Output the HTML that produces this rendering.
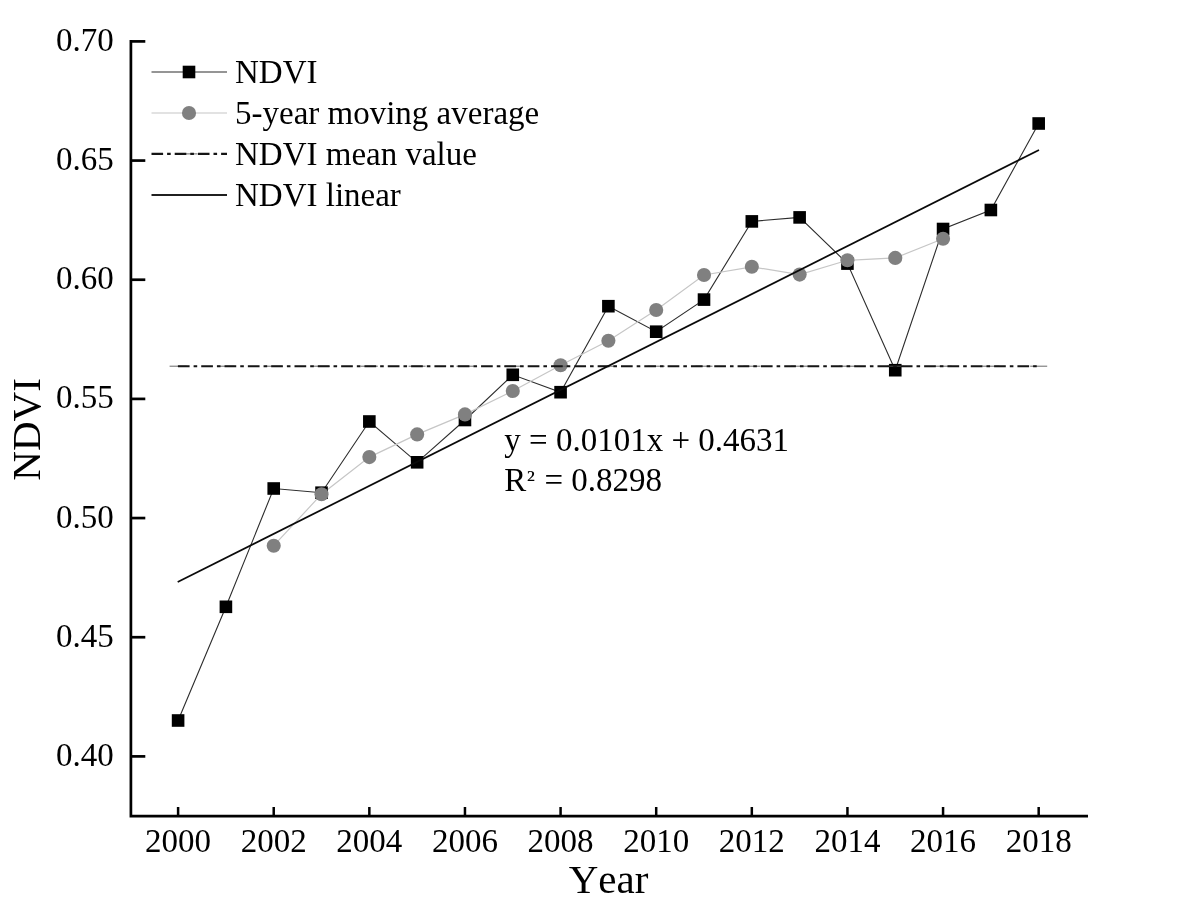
<!DOCTYPE html>
<html lang="en">
<head>
<meta charset="utf-8">
<title>NDVI trend 2000-2018</title>
<style>
html,body{margin:0;padding:0;background:#fff;}
body{width:1182px;height:917px;overflow:hidden;}
svg{display:block;will-change:transform;}
text{font-family:'Liberation Serif','Times New Roman',serif;fill:#000;font-kerning:none;font-variant-ligatures:none;}
.tick{font-size:33px;}
.leg{font-size:33px;}
.ttl{font-size:41px;}
</style>
</head>
<body>
<svg width="1182" height="917" viewBox="0 0 1182 917">
<rect x="0" y="0" width="1182" height="917" fill="#ffffff"/>
<g stroke="#000" stroke-width="2.7" fill="none" stroke-linecap="butt">
<path d="M130.9 40.05 V816.1 H1088" stroke-linejoin="miter"/>
<path d="M130.9 41.40 H145.3"/>
<path d="M130.9 160.57 H145.3"/>
<path d="M130.9 279.73 H145.3"/>
<path d="M130.9 398.90 H145.3"/>
<path d="M130.9 518.06 H145.3"/>
<path d="M130.9 637.23 H145.3"/>
<path d="M130.9 756.39 H145.3"/>
</g>
<g stroke="#000" stroke-width="2.5" fill="none">
<path d="M178.10 816.1 V807"/>
<path d="M273.72 816.1 V807"/>
<path d="M369.34 816.1 V807"/>
<path d="M464.96 816.1 V807"/>
<path d="M560.58 816.1 V807"/>
<path d="M656.20 816.1 V807"/>
<path d="M751.82 816.1 V807"/>
<path d="M847.44 816.1 V807"/>
<path d="M943.06 816.1 V807"/>
<path d="M1038.68 816.1 V807"/>
</g>
<g class="tick" text-anchor="end">
<text x="113.7" y="50.90">0.70</text>
<text x="113.7" y="170.07">0.65</text>
<text x="113.7" y="289.23">0.60</text>
<text x="113.7" y="408.40">0.55</text>
<text x="113.7" y="527.56">0.50</text>
<text x="113.7" y="646.73">0.45</text>
<text x="113.7" y="765.89">0.40</text>
</g>
<g class="tick" text-anchor="middle">
<text x="178.10" y="851.5">2000</text>
<text x="273.72" y="851.5">2002</text>
<text x="369.34" y="851.5">2004</text>
<text x="464.96" y="851.5">2006</text>
<text x="560.58" y="851.5">2008</text>
<text x="656.20" y="851.5">2010</text>
<text x="751.82" y="851.5">2012</text>
<text x="847.44" y="851.5">2014</text>
<text x="943.06" y="851.5">2016</text>
<text x="1038.68" y="851.5">2018</text>
</g>
<text class="ttl" text-anchor="middle" x="608.6" y="893.4">Year</text>
<text class="ttl" text-anchor="middle" transform="translate(39.8 429.4) rotate(-90)">NDVI</text>
<polyline points="178.10,720.50 225.91,606.80 273.72,488.50 321.53,492.70 369.34,421.50 417.15,462.30 464.96,420.00 512.77,374.80 560.58,392.20 608.39,306.20 656.20,331.70 704.01,299.60 751.82,221.40 799.63,217.40 847.44,263.60 895.25,370.20 943.06,229.00 990.87,210.00 1038.68,123.50" fill="none" stroke="#2c2c2c" stroke-width="1.1"/>
<polyline points="273.72,545.70 321.53,494.20 369.34,457.10 417.15,434.40 464.96,414.40 512.77,391.00 560.58,365.20 608.39,340.70 656.20,310.00 704.01,275.00 751.82,266.80 799.63,274.60 847.44,260.30 895.25,257.90 943.06,238.80" fill="none" stroke="#c6c6c6" stroke-width="1.2"/>
<g fill="#000">
<rect x="171.80" y="714.20" width="12.6" height="12.6"/>
<rect x="219.61" y="600.50" width="12.6" height="12.6"/>
<rect x="267.42" y="482.20" width="12.6" height="12.6"/>
<rect x="315.23" y="486.40" width="12.6" height="12.6"/>
<rect x="363.04" y="415.20" width="12.6" height="12.6"/>
<rect x="410.85" y="456.00" width="12.6" height="12.6"/>
<rect x="458.66" y="413.70" width="12.6" height="12.6"/>
<rect x="506.47" y="368.50" width="12.6" height="12.6"/>
<rect x="554.28" y="385.90" width="12.6" height="12.6"/>
<rect x="602.09" y="299.90" width="12.6" height="12.6"/>
<rect x="649.90" y="325.40" width="12.6" height="12.6"/>
<rect x="697.71" y="293.30" width="12.6" height="12.6"/>
<rect x="745.52" y="215.10" width="12.6" height="12.6"/>
<rect x="793.33" y="211.10" width="12.6" height="12.6"/>
<rect x="841.14" y="257.30" width="12.6" height="12.6"/>
<rect x="888.95" y="363.90" width="12.6" height="12.6"/>
<rect x="936.76" y="222.70" width="12.6" height="12.6"/>
<rect x="984.57" y="203.70" width="12.6" height="12.6"/>
<rect x="1032.38" y="117.20" width="12.6" height="12.6"/>
</g>
<g fill="#808080">
<circle cx="273.72" cy="545.70" r="7.05"/>
<circle cx="321.53" cy="494.20" r="7.05"/>
<circle cx="369.34" cy="457.10" r="7.05"/>
<circle cx="417.15" cy="434.40" r="7.05"/>
<circle cx="464.96" cy="414.40" r="7.05"/>
<circle cx="512.77" cy="391.00" r="7.05"/>
<circle cx="560.58" cy="365.20" r="7.05"/>
<circle cx="608.39" cy="340.70" r="7.05"/>
<circle cx="656.20" cy="310.00" r="7.05"/>
<circle cx="704.01" cy="275.00" r="7.05"/>
<circle cx="751.82" cy="266.80" r="7.05"/>
<circle cx="799.63" cy="274.60" r="7.05"/>
<circle cx="847.44" cy="260.30" r="7.05"/>
<circle cx="895.25" cy="257.90" r="7.05"/>
<circle cx="943.06" cy="238.80" r="7.05"/>
</g>
<path d="M169.6 366.2 H186.6 M217.4 366.2 H234.4 M265.2 366.2 H282.2 M313.0 366.2 H330.0 M360.8 366.2 H377.8 M408.6 366.2 H425.6 M456.5 366.2 H473.5 M504.3 366.2 H521.3 M552.1 366.2 H569.1 M599.9 366.2 H616.9 M647.7 366.2 H664.7 M695.5 366.2 H712.5 M743.3 366.2 H760.3 M791.1 366.2 H808.1 M838.9 366.2 H855.9 M886.8 366.2 H903.8 M934.6 366.2 H951.6 M982.4 366.2 H999.4 M1030.2 366.2 H1047.2" stroke="#585858" stroke-width="0.9" fill="none"/>
<path d="M177.9 366.2 H1038.2" stroke="#151515" stroke-width="2.1" stroke-dasharray="11.7 4 3.6 4.02" fill="none"/>
<path d="M177.7 582 L1039 150" stroke="#0a0a0a" stroke-width="1.75" fill="none"/>
<path d="M151.5 72 H227" stroke="#2c2c2c" stroke-width="1.1"/>
<rect x="182.70" y="65.70" width="12.6" height="12.6" fill="#000"/>
<path d="M151.5 113.0 H227" stroke="#c6c6c6" stroke-width="1.2"/>
<circle cx="189" cy="113.0" r="7.05" fill="#808080"/>
<path d="M186 153.9 H197.4" stroke="#585858" stroke-width="0.9"/>
<path d="M151.5 153.9 H227" stroke="#151515" stroke-width="2.1" stroke-dasharray="11.6 4 3.6 4"/>
<path d="M151.5 194.9 H227" stroke="#202020" stroke-width="2"/>
<g class="leg">
<text x="235" y="83.0">NDVI</text>
<text x="235" y="123.8">5-year moving average</text>
<text x="235" y="164.5">NDVI mean value</text>
<text x="235" y="205.5">NDVI linear</text>
</g>
<g class="leg">
<text x="504.3" y="450.7">y = 0.0101x + 0.4631</text>
<text x="504.3" y="491">R<tspan font-size="23" dx="0.4" dy="-3.6" textLength="8.2" lengthAdjust="spacingAndGlyphs">²</tspan><tspan x="536.2" dy="3.6"> = 0.8298</tspan></text>
</g>
</svg>
</body>
</html>
